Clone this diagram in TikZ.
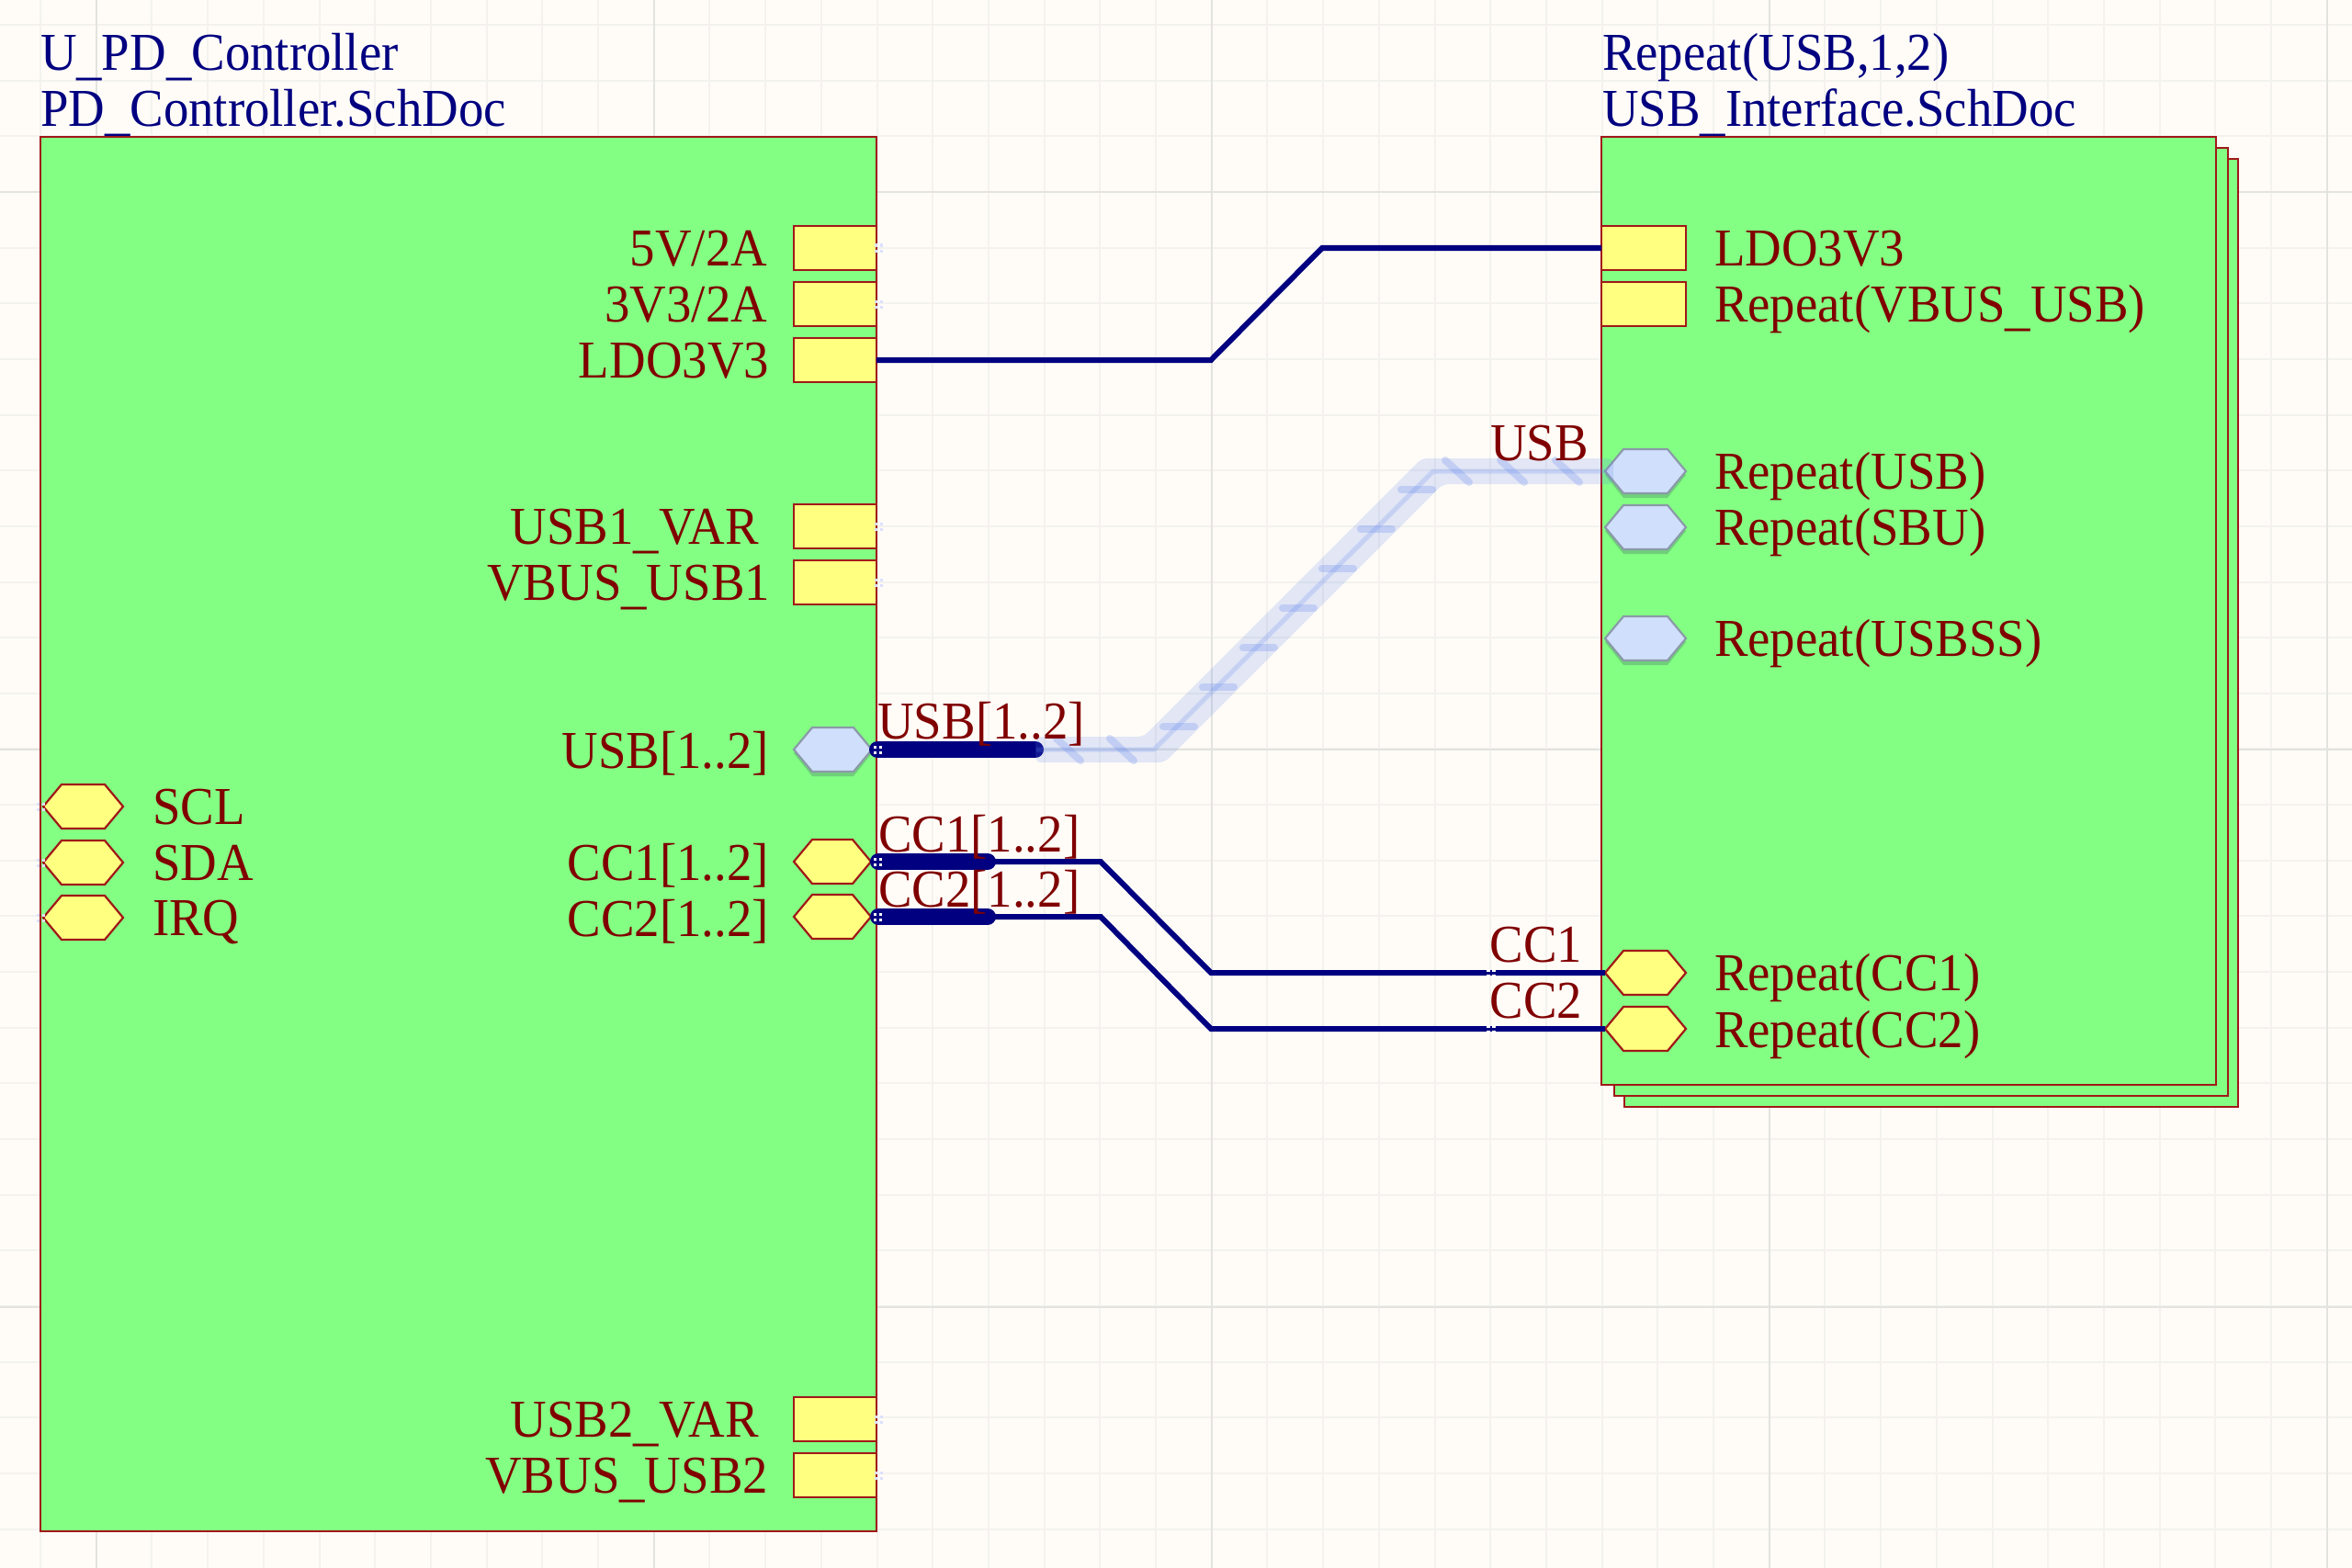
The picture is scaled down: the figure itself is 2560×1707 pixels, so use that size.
\documentclass[tikz,border=0pt]{standalone}
\usepackage{fontspec}
\setmainfont[FakeStretch=0.945]{Liberation Serif}
\usetikzlibrary{calc}
\definecolor{paper}{HTML}{FFFCF7}
\definecolor{gridminor}{HTML}{F3F2EE}
\definecolor{gridmajor}{HTML}{E3E3DF}
\definecolor{sheetgreen}{HTML}{83FF83}
\definecolor{portyellow}{HTML}{FFFF80}
\definecolor{portblue}{HTML}{D0DFFB}
\definecolor{edgered}{HTML}{A01818}
\definecolor{textred}{HTML}{800000}
\definecolor{navy}{HTML}{000080}
\definecolor{shadowgreen}{HTML}{6FCF7A}
\definecolor{busblue}{HTML}{5F85EE}
\definecolor{hexedge}{HTML}{8A9AA8}
\definecolor{pindot}{HTML}{DDE0FF}
\newcommand{\lowbar}{\raisebox{-3.5pt}{\_}}
\tikzset{
  sheet/.style={draw=edgered,fill=sheetgreen,line width=2pt,inner sep=0pt,outer sep=0pt},
  portbox/.style={draw=edgered,fill=portyellow,line width=2.2pt,inner sep=0pt,outer sep=0pt,minimum height=48pt},
  hexanchor/.style={inner sep=0pt,outer sep=0pt,minimum height=48pt},
  txt/.style={inner sep=0pt,outer sep=0pt,font=\fontsize{58}{60}\selectfont},
  pinlabel/.style={txt,text=textred},
  titlelabel/.style={txt,text=navy},
  wire/.style={draw=navy,line width=6pt,line join=miter},
  thickbus/.style={draw=navy,line width=18pt,line cap=round},
  halo/.style={fill=busblue,opacity=.18,rounded corners=6pt},
  halocore/.style={draw=busblue,line width=5pt,opacity=.22,line join=round},
  busmark/.style={draw=busblue,line width=8pt,opacity=.25,line cap=round},
}
% name, x-left, x-right, y, fill, edge colour
\newcommand{\hexport}[6]{%
  \node[hexanchor,minimum width=#3pt-#2pt] (#1) at ({(#2+#3)/2},#4) {};
  \draw[draw=#6,fill=#5,line width=2.2pt,line join=miter]
    (#1.west) -- ($(#1.north west)+(20pt,0)$) -- ($(#1.north east)+(-20pt,0)$) -- (#1.east)
    -- ($(#1.south east)+(-20pt,0)$) -- ($(#1.south west)+(20pt,0)$) -- cycle;
}
\newcommand{\hexshadow}[3]{%
  \fill[shadowgreen] (#1+0,#3+4) -- (#1+20,#3-20) -- (#2-20,#3-20) -- (#2,#3+4) -- (#2-20,#3+29) -- (#1+20,#3+29) -- cycle;
}
% four tiny squares: x, y, colour
\newcommand{\pinmarks}[3]{%
  \fill[#3] (#1-4.5,#2-4.5) rectangle +(3.5,3.5);
  \fill[#3] (#1+1.5,#2-4.5) rectangle +(3.5,3.5);
  \fill[#3] (#1-4.5,#2+1.5) rectangle +(3.5,3.5);
  \fill[#3] (#1+1.5,#2+1.5) rectangle +(3.5,3.5);
}
\begin{document}
\begin{tikzpicture}[x=1pt,y=-1pt]
\useasboundingbox (0,0) rectangle (2560,1707);
\fill[paper] (0,0) rectangle (2560,1707);
% grid
\foreach \k in {0,...,41} {\draw[gridminor,line width=2pt] ({44+\k*60.7},0) -- ({44+\k*60.7},1707);}
\foreach \k in {0,...,27} {\draw[gridminor,line width=2pt] (0,{27+\k*60.65}) -- (2560,{27+\k*60.65});}
\foreach \v in {105,712,1319,1926,2533} {\draw[gridmajor,line width=2pt] (\v,0) -- (\v,1707);}
\foreach \v in {209,816,1423} {\draw[gridmajor,line width=2pt] (0,\v) -- (2560,\v);}

% titles
\node[titlelabel,anchor=base west] (t1) at (44,77) {U\lowbar PD\lowbar Controller};
\node[titlelabel,anchor=base west] (t2) at (44,138) {PD\lowbar Controller.SchDoc};
\node[titlelabel,anchor=base west] (t3) at (1744,77) {Repeat(USB,1,2)};
\node[titlelabel,anchor=base west] (t4) at (1744,138) {USB\lowbar Interface.SchDoc};

% sheets
\node[sheet,minimum width=910pt,minimum height=1518pt] (ctl) at (499,908) {};
\node[sheet,minimum width=668pt,minimum height=1032pt] (rep3) at (2102,689) {};
\node[sheet,minimum width=668pt,minimum height=1032pt] (rep2) at (2090.5,677) {};
\node[sheet,minimum width=669pt,minimum height=1032pt] (rep1) at (2077.5,665) {};

% left sheet, rectangular ports
\node[portbox,minimum width=90pt] (p5v) at (909,270) {};
\node[portbox,minimum width=90pt] (p3v) at (909,331) {};
\node[portbox,minimum width=90pt] (pldo) at (909,392) {};
\node[portbox,minimum width=90pt] (pv1) at (909,573) {};
\node[portbox,minimum width=90pt] (pb1) at (909,634) {};
\node[portbox,minimum width=90pt] (pv2) at (909,1545) {};
\node[portbox,minimum width=90pt] (pb2) at (909,1606) {};
% left sheet, hexagonal ports
\hexshadow{864}{949}{816}
\hexport{pusb}{864}{949}{816}{portblue}{hexedge}
\hexport{pcc1}{864}{948}{938}{portyellow}{edgered}
\hexport{pcc2}{864}{948}{998}{portyellow}{edgered}
\hexport{pscl}{47}{134}{878}{portyellow}{edgered}
\hexport{psda}{47}{134}{939}{portyellow}{edgered}
\hexport{pirq}{47}{134}{999}{portyellow}{edgered}
% right sheet ports
\node[portbox,minimum width=92pt] (rldo) at (1789,270) {};
\node[portbox,minimum width=92pt] (rvb) at (1789,331) {};
\hexshadow{1747}{1835}{513}
\hexshadow{1747}{1835}{574}
\hexshadow{1747}{1835}{695}
\hexport{rusb}{1747}{1835}{513}{portblue}{hexedge}
\hexport{rsbu}{1747}{1835}{574}{portblue}{hexedge}
\hexport{rss}{1747}{1835}{695}{portblue}{hexedge}
\hexport{rcc1}{1747}{1835}{1059}{portyellow}{edgered}
\hexport{rcc2}{1747}{1835}{1120}{portyellow}{edgered}

% left sheet labels
\node[pinlabel,anchor=base east] (l1) at (835,289) {5V/2A};
\node[pinlabel,anchor=base east] (l2) at (835,350) {3V3/2A};
\node[pinlabel,anchor=base east] (l3) at (837,411) {LDO3V3};
\node[pinlabel,anchor=base east] (l4) at (826,592) {USB1\lowbar VAR};
\node[pinlabel,anchor=base east] (l5) at (838,653) {VBUS\lowbar USB1};
\node[pinlabel,anchor=base east] (l6) at (837,836) {USB[1..2]};
\node[pinlabel,anchor=base east] (l7) at (837,958) {CC1[1..2]};
\node[pinlabel,anchor=base east] (l8) at (837,1019) {CC2[1..2]};
\node[pinlabel,anchor=base east] (l9) at (826,1564) {USB2\lowbar VAR};
\node[pinlabel,anchor=base east] (l10) at (836,1625) {VBUS\lowbar USB2};
\node[pinlabel,anchor=base west] (l11) at (166,897) {SCL};
\node[pinlabel,anchor=base west] (l12) at (166,958) {SDA};
\node[pinlabel,anchor=base west] (l13) at (166,1018) {IRQ};
% right sheet labels
\node[pinlabel,anchor=base west] (r1) at (1866,289) {LDO3V3};
\node[pinlabel,anchor=base west] (r2) at (1866,350) {Repeat(VBUS\lowbar USB)};
\node[pinlabel,anchor=base west] (r3) at (1866,532) {Repeat(USB)};
\node[pinlabel,anchor=base west] (r4) at (1866,593) {Repeat(SBU)};
\node[pinlabel,anchor=base west] (r5) at (1866,714) {Repeat(USBSS)};
\node[pinlabel,anchor=base west] (r6) at (1866,1078) {Repeat(CC1)};
\node[pinlabel,anchor=base west] (r7) at (1866,1140) {Repeat(CC2)};

% connectors
\draw[wire] (pldo.east) -- (1318,392) -- (1439,270) -- (rldo.west);
\draw[wire] (pcc1.east) -- (1198,938) -- (1318,1059) -- (rcc1.west);
\draw[wire] (pcc2.east) -- (1198,998) -- (1318,1120) -- (rcc2.west);
\draw[thickbus] (pusb.east) ++(6pt,0) -- (1127,816);
\draw[thickbus] (pcc1.east) ++(8pt,0) -- (1075,938);
\draw[thickbus] (pcc2.east) ++(8pt,0) -- (1075,998);
% highlighted bus
\fill[halo] (1127,802) -- (1244.5,802) -- (1547.5,499) -- (1756,499) -- (1756,527) -- (1570.5,527) -- (1267.5,830) -- (1127,830) -- cycle;
\draw[halocore] (1128,816) -- (1256,816) -- (1560,513) -- (rusb.west);
\foreach \mx/\my in {1542/533,1498/576,1456/619,1413/662,1370/705,1326/748,1283/791}
  {\draw[busmark] (\mx-17,\my) -- (\mx+17,\my);}
\foreach \mx/\my in {1586/513,1646/513,1706/513,1163/816,1221/816}
  {\draw[busmark] (\mx-13,\my-12) -- (\mx+13,\my+12);}
% end marks of the buses and wires
\pinmarks{955}{816}{white}
\pinmarks{955}{938}{white}
\pinmarks{955}{998}{white}
\pinmarks{1622.5}{1059}{white}
\pinmarks{1622.5}{1120}{white}
\foreach \py in {270,331,573,634,1545,1606} {\pinmarks{956}{\py}{pindot}}
\foreach \py in {878,939,999} {\pinmarks{44}{\py}{pindot}}
% net labels
\node[pinlabel,anchor=base west] (n1) at (955.4,804.6) {USB[1..2]};
\node[pinlabel,anchor=base west] (n2) at (956,927) {CC1[1..2]};
\node[pinlabel,anchor=base west] (n3) at (956,987) {CC2[1..2]};
\node[pinlabel,anchor=base east] (n4) at (1729,501) {USB};
\node[pinlabel,anchor=base east] (n5) at (1722,1047) {CC1};
\node[pinlabel,anchor=base east] (n6) at (1722,1108) {CC2};
\end{tikzpicture}
\end{document}
